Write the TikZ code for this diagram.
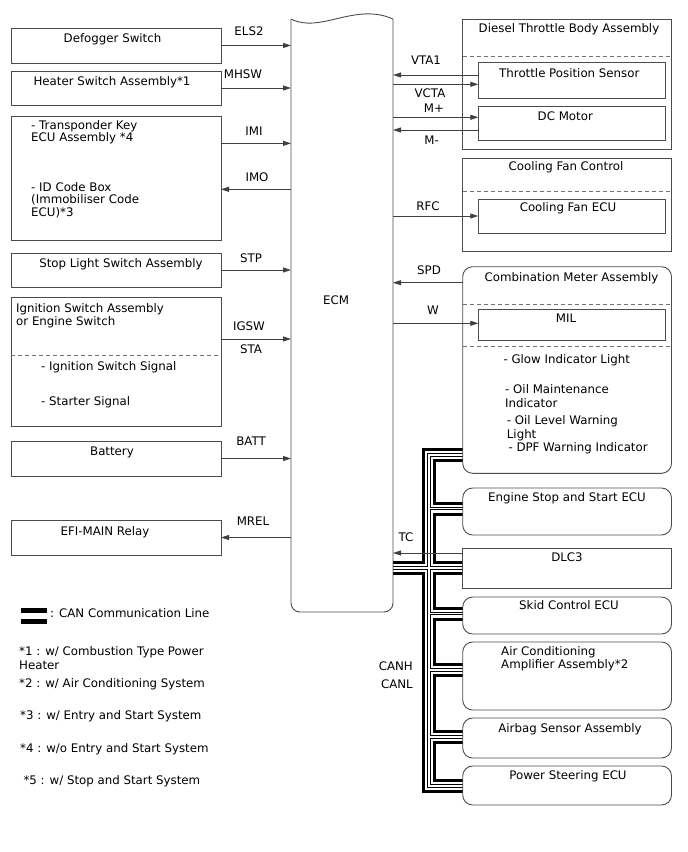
\documentclass[tikz,border=0pt]{standalone}
\usepackage{fontspec}
\setmainfont{DejaVu Sans}
\usetikzlibrary{arrows.meta,calc}
\pgfdeclarelayer{bg}
\pgfsetlayers{bg,main}
\newcommand\cablelayer[2]{%
  \draw[line width=#1,#2] (meter.west |- ctop) -- (ctop) -- (cbot) -- (ps.west |- cbot);
  \draw[line width=#1,#2] (ecm.east |- dlc.west) -- (dlc.west);
  \draw[line width=#1,#2] (bess) -- (bess -| ess.west);
  \draw[line width=#1,#2] (bskid) -- (bskid -| skid.west);
  \draw[line width=#1,#2] (bac) -- (bac -| ac.west);
  \draw[line width=#1,#2] (bair) -- (bair -| airbag.west);
}
\begin{document}
\begin{tikzpicture}[x=1pt,y=-1pt,
  box/.style={draw=black!70, line width=0.9pt, inner sep=0pt, outer sep=0pt},
  rbox/.style={box, rounded corners=10pt},
  txt/.style={font=\fontsize{11.8}{14}\selectfont, inner sep=0pt, anchor=base},
  txtl/.style={txt, anchor=base west},
  txtr/.style={txt, anchor=base east},
  arr/.style={draw=black!75, line width=0.8pt, -{Triangle[length=8pt,width=5pt]}},
  sepline/.style={draw=black!55, line width=0.9pt, dash pattern=on 4pt off 3pt},
  ecmline/.style={draw=black!70, line width=0.9pt}
]
\useasboundingbox (0,0) rectangle (688,852);

% ECM
\node[inner sep=0pt, outer sep=0pt, minimum width=102, minimum height=593] (ecm) at (342,315.5) {};
\draw[ecmline, rounded corners=9pt] (ecm.north west) -- (ecm.south west) -- (ecm.south east) -- (ecm.north east);
\draw[ecmline] (ecm.north west) .. controls +(29,15) and +(-38,-17) .. (ecm.north east);
\node[txt] at (336,304) {ECM};

% left boxes
\node[box, minimum width=210, minimum height=35] (defog) at (116,45.5) {};
\node[box, minimum width=210, minimum height=34] (heater) at (116,88) {};
\node[box, minimum width=210, minimum height=124] (transp) at (116,178) {};
\node[box, minimum width=210, minimum height=34] (stop) at (116,270) {};
\node[box, minimum width=210, minimum height=129] (ign) at (116,361.5) {};
\node[box, minimum width=210, minimum height=35] (batt) at (116,458.5) {};
\node[box, minimum width=210, minimum height=35] (efi) at (116,537.5) {};
\draw[sepline] ($(ign.north west)+(0,58.5)$) -- ($(ign.north east)+(0,58.5)$);

\node[txt] at (112.5,42) {Defogger Switch};
\node[txt] at (112,85) {Heater Switch Assembly*1};
\node[txtl] at (31,129) {- Transponder Key};
\node[txtl] at (31,141.5) {ECU Assembly *4};
\node[txtl] at (31,191) {- ID Code Box};
\node[txtl] at (31,203.5) {(Immobiliser Code};
\node[txtl] at (31,216) {ECU)*3};
\node[txt] at (121,267) {Stop Light Switch Assembly};
\node[txtl] at (16,312.3) {Ignition Switch Assembly};
\node[txtl] at (16,325.7) {or Engine Switch};
\node[txtl] at (41,370.7) {- Ignition Switch Signal};
\node[txtl] at (41,405) {- Starter Signal};
\node[txt] at (112,455) {Battery};
\node[txt] at (105,535) {EFI-MAIN Relay};

% left signals
\draw[arr] (defog.east) -- (defog.east -| ecm.west);
\node[txt] at (249,35) {ELS2};
\draw[arr] (heater.east) -- (heater.east -| ecm.west);
\node[txt] at (243,78) {MHSW};
\coordinate (imi) at ($(transp.north east)+(0,27.3)$);
\draw[arr] (imi) -- (imi -| ecm.west);
\node[txt] at (254,135) {IMI};
\coordinate (imo) at ($(transp.north east)+(0,73.3)$);
\draw[arr] (imo -| ecm.west) -- (imo);
\node[txt] at (257,181) {IMO};
\draw[arr] (stop.east) -- (stop.east -| ecm.west);
\node[txt] at (251,262) {STP};
\coordinate (igsw) at ($(ign.north east)+(0,42)$);
\draw[arr] (igsw) -- (igsw -| ecm.west);
\node[txt] at (249,330) {IGSW};
\node[txt] at (251,353.3) {STA};
\draw[arr] (batt.east) -- (batt.east -| ecm.west);
\node[txt] at (251,445) {BATT};
\draw[arr] (efi.east -| ecm.west) -- (efi.east);
\node[txt] at (253,525) {MREL};

% right boxes
\node[box, minimum width=208.8, minimum height=130.3] (diesel) at (567.1,84.15) {};
\node[box, minimum width=187.4, minimum height=35.6] (tps) at (572,80.5) {};
\node[box, minimum width=187.4, minimum height=34.7] (dcm) at (572,123.35) {};
\draw[sepline] ($(diesel.north west)+(0,37)$) -- ($(diesel.north east)+(0,37)$);
\node[txt] at (569,32) {Diesel Throttle Body Assembly};
\node[txt] at (569.3,77.5) {Throttle Position Sensor};
\node[txt] at (565.3,120) {DC Motor};

\node[box, minimum width=208.8, minimum height=93] (cool) at (567.1,204.5) {};
\node[box, minimum width=187.4, minimum height=34] (cfecu) at (572,216) {};
\draw[sepline] ($(cool.north west)+(0,33)$) -- ($(cool.north east)+(0,33)$);
\node[txt] at (566,170) {Cooling Fan Control};
\node[txt] at (568,211) {Cooling Fan ECU};

\node[rbox, minimum width=208.8, minimum height=206.6] (meter) at (567.1,370) {};
\node[box, minimum width=187.4, minimum height=31.4] (mil) at (572,325) {};
\draw[sepline] ($(meter.north west)+(0,37.6)$) -- ($(meter.north east)+(0,37.6)$);
\draw[sepline] ($(meter.north west)+(0,80)$) -- ($(meter.north east)+(0,80)$);
\node[txt] at (571.5,281) {Combination Meter Assembly};
\node[txt] at (566,322.5) {MIL};
\node[txtl] at (503.3,363) {- Glow Indicator Light};
\node[txtl] at (505,393.3) {- Oil Maintenance};
\node[txtl] at (505,407.3) {Indicator};
\node[txtl] at (506.7,424.7) {- Oil Level Warning};
\node[txtl] at (506.7,438) {Light};
\node[txtl] at (508.3,451.3) {- DPF Warning Indicator};

\node[rbox, minimum width=208.8, minimum height=47] (ess) at (567.1,511.5) {};
\node[txt] at (567,501) {Engine Stop and Start ECU};
\node[box, minimum width=208.8, minimum height=40] (dlc) at (567.1,568) {};
\node[txt] at (567,561) {DLC3};
\node[rbox, minimum width=208.8, minimum height=37] (skid) at (567.1,615.5) {};
\node[txt] at (569,609) {Skid Control ECU};
\node[rbox, minimum width=208.8, minimum height=68] (ac) at (567.1,676) {};
\node[txtl] at (501,655) {Air Conditioning};
\node[txtl] at (501,668) {Amplifier Assembly*2};
\node[rbox, minimum width=208.8, minimum height=40] (airbag) at (567.1,738) {};
\node[txt] at (570,732) {Airbag Sensor Assembly};
\node[rbox, minimum width=208.8, minimum height=39] (ps) at (567.1,785.5) {};
\node[txt] at (568,779) {Power Steering ECU};

% right signals
\coordinate (vta) at ($(tps.north west)+(0,12.3)$);
\draw[arr] (vta) -- (vta -| ecm.east);
\node[txt] at (426,64) {VTA1};
\coordinate (vcta) at ($(tps.north west)+(0,21.6)$);
\draw[arr] (vcta -| ecm.east) -- (vcta);
\node[txt] at (430,97.5) {VCTA};
\coordinate (mp) at ($(dcm.north west)+(0,11.3)$);
\draw[arr] (mp -| ecm.east) -- (mp);
\node[txt] at (434,112.5) {M+};
\coordinate (mm) at ($(dcm.north west)+(0,24)$);
\draw[arr] (mm) -- (mm -| ecm.east);
\node[txt] at (431.6,144) {M-};
\draw[arr] (ecm.east |- cfecu.west) -- (cfecu.west);
\node[txt] at (428,210) {RFC};
\coordinate (spd) at ($(meter.north west)+(0,16)$);
\draw[arr] (spd) -- (spd -| ecm.east);
\node[txt] at (429,274) {SPD};
\coordinate (w) at ($(mil.north west)+(0,14)$);
\draw[arr] (w -| ecm.east) -- (w);
\node[txt] at (433,314) {W};
\coordinate (tc) at ($(dlc.north west)+(0,5)$);
\draw[arr] (tc) -- (tc -| ecm.east);
\node[txt] at (406,541) {TC};
\node[txtr] at (413,670) {CANH};
\node[txtr] at (413,688) {CANL};

% CAN bus
\coordinate (ctop) at (429,455);
\coordinate (cbot) at (429,786);
\coordinate (bess) at (429,508.5);
\coordinate (bskid) at (429,613.5);
\coordinate (bac) at (429,670);
\coordinate (bair) at (429,737);
\begin{pgfonlayer}{bg}
\cablelayer{14pt}{black}
\cablelayer{8pt}{white}
\cablelayer{3.5pt}{black}
\cablelayer{1.5pt}{white}
\end{pgfonlayer}

% legend
\draw[line width=4.5pt] (21,610.5) -- (47,610.5);
\draw[line width=4.5pt] (21,621.7) -- (47,621.7);
\node[txtl] at (50,617.5) {: CAN Communication Line};
\node[txtl] at (19,655.7) {*1 : w/ Combustion Type Power};
\node[txtl] at (19,669.7) {Heater};
\node[txtl] at (19,687) {*2 : w/ Air Conditioning System};
\node[txtl] at (20,719.7) {*3 : w/ Entry and Start System};
\node[txtl] at (20,752) {*4 : w/o Entry and Start System};
\node[txtl] at (23.3,784.7) {*5 : w/ Stop and Start System};
\end{tikzpicture}
\end{document}
